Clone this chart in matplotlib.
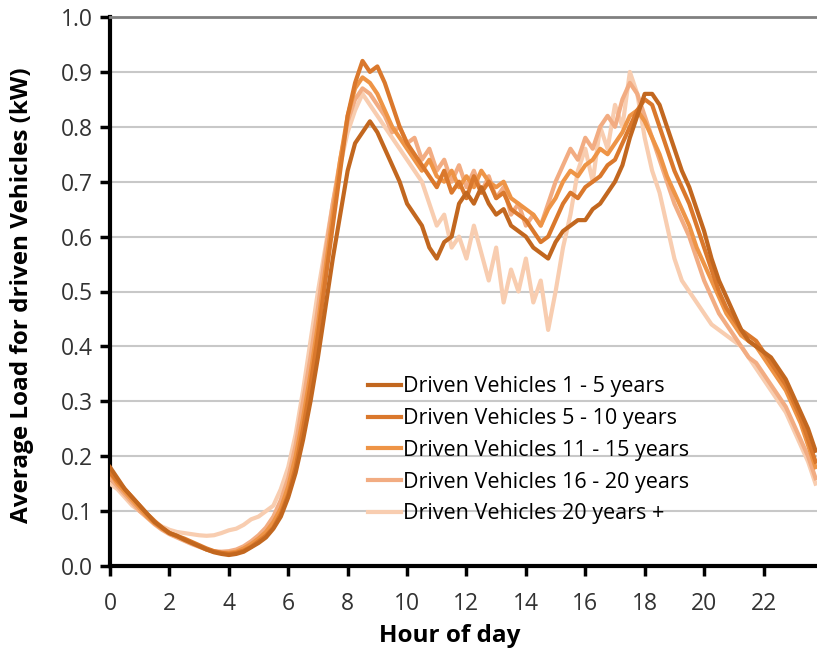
import numpy as np
import matplotlib
matplotlib.use("Agg")
import matplotlib.pyplot as plt

plt.rcParams['font.family'] = ['Open Sans', 'DejaVu Sans']

# hour of day, quarter-hour steps
hours = np.arange(0, 24, 0.25)

veh_1_5 = [0.18, 0.16, 0.14, 0.125, 0.11, 0.095, 0.08, 0.07, 0.06, 0.055, 0.048, 0.042,
           0.036, 0.03, 0.025, 0.022, 0.02, 0.022, 0.026, 0.034, 0.042, 0.052, 0.068, 0.09,
           0.125, 0.17, 0.23, 0.30, 0.38, 0.47, 0.56, 0.64, 0.72, 0.77, 0.79, 0.81,
           0.79, 0.76, 0.73, 0.70, 0.66, 0.64, 0.62, 0.58, 0.56, 0.59, 0.60, 0.66,
           0.68, 0.66, 0.69, 0.66, 0.64, 0.65, 0.62, 0.61, 0.60, 0.58, 0.57, 0.56,
           0.59, 0.61, 0.62, 0.63, 0.63, 0.65, 0.66, 0.68, 0.70, 0.73, 0.78, 0.82,
           0.86, 0.86, 0.84, 0.80, 0.76, 0.72, 0.69, 0.65, 0.61, 0.56, 0.52, 0.49,
           0.46, 0.43, 0.41, 0.40, 0.39, 0.38, 0.36, 0.34, 0.31, 0.28, 0.25, 0.21]

veh_5_10 = [0.17, 0.155, 0.14, 0.125, 0.11, 0.095, 0.082, 0.07, 0.06, 0.055, 0.05, 0.044,
            0.038, 0.032, 0.027, 0.024, 0.022, 0.024, 0.028, 0.035, 0.045, 0.055, 0.07, 0.095,
            0.13, 0.18, 0.25, 0.33, 0.42, 0.52, 0.62, 0.72, 0.82, 0.88, 0.92, 0.90,
            0.91, 0.88, 0.84, 0.80, 0.77, 0.75, 0.73, 0.71, 0.69, 0.72, 0.68, 0.70,
            0.67, 0.71, 0.68, 0.70, 0.67, 0.68, 0.65, 0.64, 0.63, 0.61, 0.59, 0.60,
            0.63, 0.66, 0.68, 0.67, 0.69, 0.70, 0.71, 0.73, 0.74, 0.77, 0.80, 0.83,
            0.85, 0.84, 0.80, 0.76, 0.72, 0.69, 0.66, 0.62, 0.58, 0.54, 0.50, 0.47,
            0.45, 0.43, 0.42, 0.41, 0.39, 0.37, 0.35, 0.33, 0.30, 0.27, 0.23, 0.19]

veh_11_15 = [0.17, 0.15, 0.135, 0.12, 0.105, 0.09, 0.078, 0.068, 0.06, 0.054, 0.048, 0.042,
             0.036, 0.03, 0.026, 0.024, 0.024, 0.026, 0.032, 0.04, 0.05, 0.062, 0.08, 0.105,
             0.145, 0.20, 0.27, 0.35, 0.44, 0.54, 0.64, 0.74, 0.82, 0.87, 0.89, 0.88,
             0.86, 0.83, 0.80, 0.78, 0.76, 0.74, 0.72, 0.74, 0.71, 0.70, 0.72, 0.69,
             0.71, 0.69, 0.72, 0.70, 0.69, 0.70, 0.67, 0.66, 0.65, 0.64, 0.62, 0.65,
             0.67, 0.70, 0.72, 0.71, 0.73, 0.74, 0.76, 0.75, 0.77, 0.79, 0.82, 0.83,
             0.81, 0.78, 0.75, 0.71, 0.68, 0.65, 0.62, 0.58, 0.55, 0.52, 0.49, 0.46,
             0.44, 0.42, 0.41, 0.40, 0.38, 0.36, 0.34, 0.32, 0.29, 0.26, 0.22, 0.18]

veh_16_20 = [0.16, 0.145, 0.13, 0.115, 0.10, 0.088, 0.076, 0.066, 0.058, 0.052, 0.046, 0.04,
             0.035, 0.03, 0.027, 0.026, 0.027, 0.03, 0.036, 0.045, 0.056, 0.07, 0.09, 0.12,
             0.16, 0.22, 0.30, 0.38, 0.47, 0.57, 0.66, 0.74, 0.81, 0.85, 0.87, 0.86,
             0.84, 0.82, 0.79, 0.80, 0.77, 0.78, 0.74, 0.76, 0.72, 0.74, 0.70, 0.73,
             0.69, 0.72, 0.68, 0.71, 0.67, 0.69, 0.64, 0.66, 0.62, 0.64, 0.62, 0.66,
             0.70, 0.73, 0.76, 0.74, 0.78, 0.76, 0.80, 0.82, 0.80, 0.85, 0.88, 0.86,
             0.82, 0.78, 0.74, 0.70, 0.66, 0.63, 0.60, 0.56, 0.52, 0.49, 0.46, 0.44,
             0.42, 0.40, 0.38, 0.37, 0.35, 0.33, 0.31, 0.29, 0.26, 0.23, 0.20, 0.16]

veh_20_plus = [0.15, 0.14, 0.125, 0.11, 0.10, 0.09, 0.08, 0.072, 0.066, 0.062, 0.06, 0.058,
               0.056, 0.055, 0.056, 0.06, 0.065, 0.068, 0.075, 0.085, 0.09, 0.10, 0.11, 0.14,
               0.18, 0.24, 0.32, 0.41, 0.50, 0.58, 0.66, 0.73, 0.79, 0.83, 0.86, 0.84,
               0.82, 0.80, 0.78, 0.76, 0.74, 0.72, 0.70, 0.66, 0.62, 0.64, 0.58, 0.60,
               0.56, 0.62, 0.57, 0.52, 0.58, 0.48, 0.54, 0.50, 0.56, 0.48, 0.52, 0.43,
               0.50, 0.58, 0.64, 0.72, 0.76, 0.70, 0.80, 0.76, 0.84, 0.80, 0.90, 0.86,
               0.78, 0.72, 0.68, 0.62, 0.56, 0.52, 0.50, 0.48, 0.46, 0.44, 0.43, 0.42,
               0.41, 0.40, 0.38, 0.36, 0.34, 0.32, 0.30, 0.28, 0.25, 0.22, 0.19, 0.15]

labels = ['Driven Vehicles 1 - 5 years', 'Driven Vehicles 5 - 10 years',
          'Driven Vehicles 11 - 15 years', 'Driven Vehicles 16 - 20 years',
          'Driven Vehicles 20 years +']
series = [veh_1_5, veh_5_10, veh_11_15, veh_16_20, veh_20_plus]
colors = ['#C2671F', '#DA782C', '#EE9446', '#F2AC82', '#F8CDB0']

fig = plt.figure(figsize=(8.17, 6.48), dpi=100)
ax = fig.add_axes([110 / 817, 82 / 648, 707 / 817, 549 / 648])

handles = []
for i, (vals, lab, col) in enumerate(zip(series, labels, colors)):
    h, = ax.plot(hours, vals, color=col, lw=3, label=lab, zorder=10 - i)
    handles.append(h)

ax.set_xlim(0, 23.8)
ax.set_ylim(0, 1.0)
ax.set_xticks(np.arange(0, 24, 2))
ax.set_yticks(np.arange(0, 1.01, 0.1))
ax.set_yticklabels([f'{v:.1f}' for v in np.arange(0, 1.01, 0.1)])
ax.yaxis.grid(True, color='#C8C8C8', lw=1.5)
ax.set_axisbelow(True)

for side in ['left', 'bottom']:
    ax.spines[side].set_linewidth(3)
    ax.spines[side].set_color('black')
ax.spines['top'].set_color('#808080')
ax.spines['top'].set_linewidth(2)
ax.spines['right'].set_visible(False)

ax.tick_params(axis='both', labelsize=16.5, labelcolor='#333333', width=2.5, length=7,
               direction='out')
ax.tick_params(axis='x', pad=12)
ax.tick_params(axis='y', pad=5)

ax.set_xlabel('Hour of day', fontsize=17.5, fontweight='bold')
ax.xaxis.set_label_coords(0.481, -0.105)
ax.set_ylabel('Average Load for driven Vehicles (kW)', fontsize=17.5, fontweight='bold')
ax.yaxis.set_label_coords(-0.108, 0.494)

ax.legend(handles=handles, loc='upper left', bbox_to_anchor=(0.35, 0.365),
          frameon=False, fontsize=15.5, handlelength=1.5, handletextpad=0.1,
          labelspacing=0.5, borderpad=0)

fig.savefig('out.png', dpi=100)
